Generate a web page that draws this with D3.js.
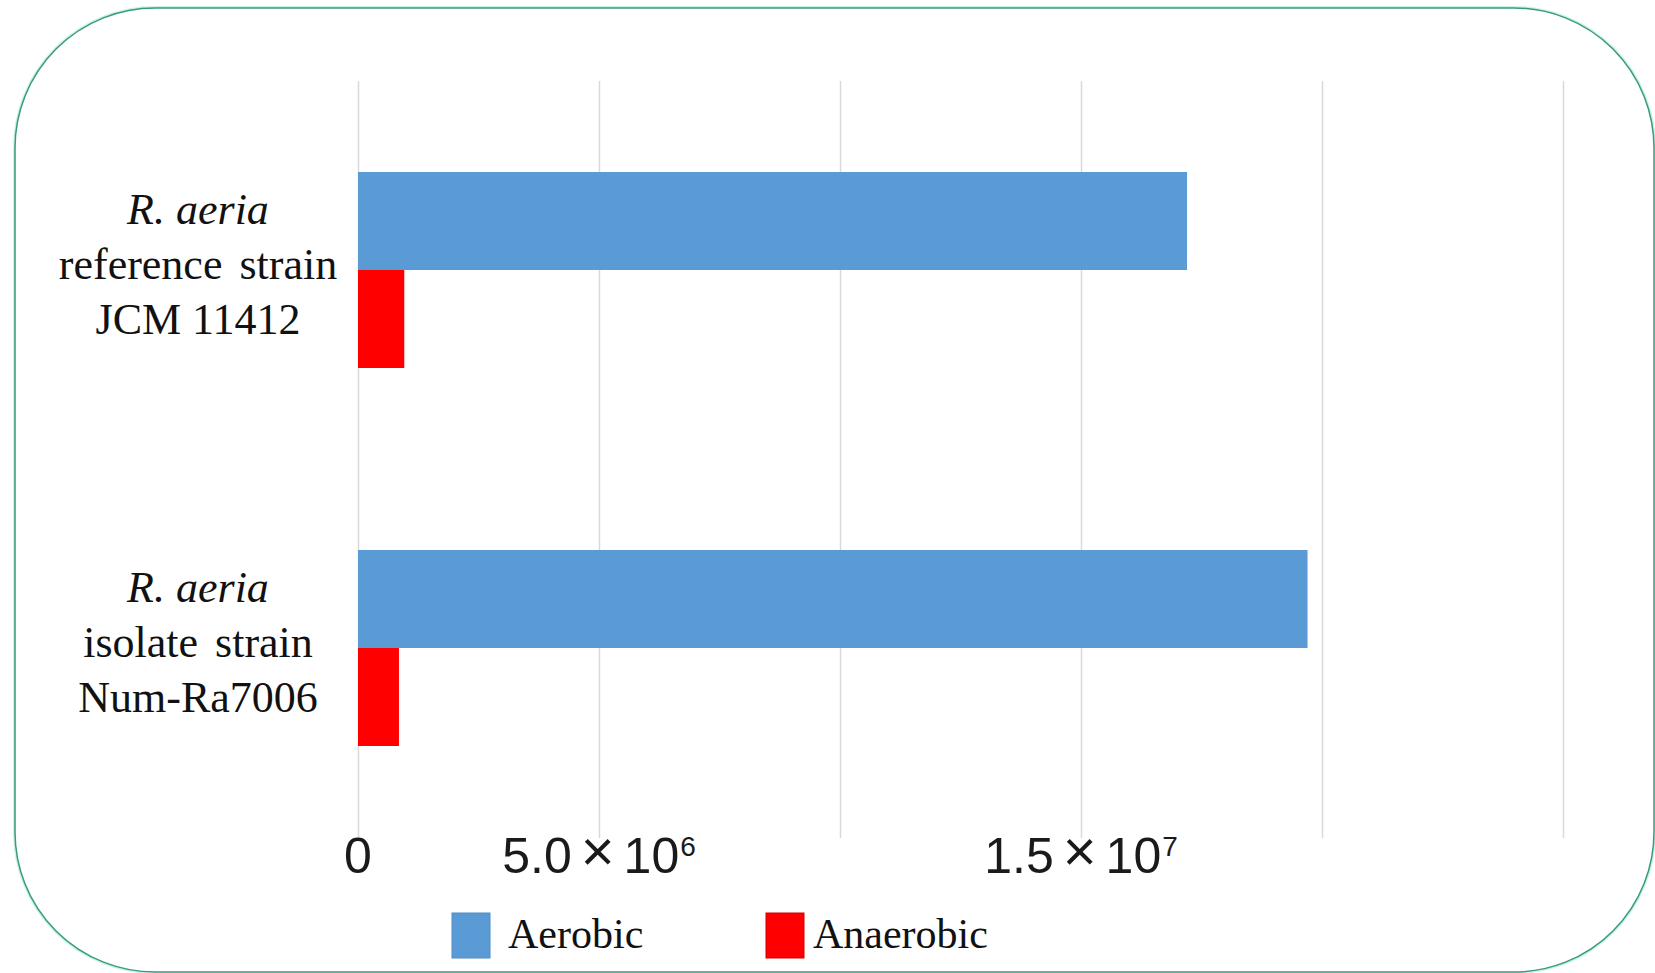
<!DOCTYPE html>
<html>
<head>
<meta charset="utf-8">
<script src="https://cdn.jsdelivr.net/npm/d3@7"></script>
<style>
  html, body { margin: 0; padding: 0; background: #ffffff; }
  svg { display: block; }
</style>
</head>
<body>
<svg id="chart" width="1655" height="973"></svg>
<script>
// ---- Data ----
const categories = ["JCM 11412", "Num-Ra7006"];
const categoryLines = [
  ["R. aeria", "reference strain", "JCM 11412"],
  ["R. aeria", "isolate strain", "Num-Ra7006"]
];
const seriesNames = ["Aerobic", "Anaerobic"];
const seriesColors = ["#5b9bd5", "#ff0000"];
const seriesStrokes = ["#4f8cc4", "#d00000"];
const aerobic = [1.72e7, 1.97e7];
const anaerobic = [9.6e5, 8.5e5];
const tickValues = [0, 5e6, 1e7, 1.5e7, 2e7, 2.5e7];
// tick labels: [mantissa, base, exponent]; empty = no label
const tickLabels = [["0", "", ""], ["5.0", "10", "6"], ["", "", ""], ["1.5", "10", "7"], ["", "", ""], ["", "", ""]];

// ---- Layout ----
const svg = d3.select("#chart");
const plot = { left: 358, right: 1563, top: 81, bottom: 837 };

// frame
svg.append("rect")
  .attr("x", 15).attr("y", 8).attr("width", 1639).attr("height", 964)
  .attr("rx", 140).attr("ry", 140)
  .attr("fill", "none").attr("stroke", "#c8f2ea").attr("stroke-width", 4);
svg.append("rect")
  .attr("x", 15).attr("y", 8).attr("width", 1639).attr("height", 964)
  .attr("rx", 140).attr("ry", 140)
  .attr("fill", "#ffffff").attr("stroke", "#3a9a7e").attr("stroke-width", 1.5);

const x = d3.scaleLinear().domain([0, 2.5e7]).range([plot.left, plot.right]);
const y = d3.scaleBand().domain(d3.range(categories.length))
  .range([plot.top, plot.bottom]).paddingInner(0.4815).paddingOuter(0.4815 / 2);
const ySub = d3.scaleBand().domain(seriesNames).range([0, y.bandwidth()]);

// grid + axis
const axis = d3.axisBottom(x).tickValues(tickValues)
  .tickSize(-(plot.bottom - plot.top + 1)).tickFormat(() => "");
const gAxis = svg.append("g").attr("transform", `translate(0,${plot.bottom + 1})`).call(axis);
gAxis.select(".domain").remove();
gAxis.selectAll(".tick line").attr("stroke", "#d9d9d9").attr("stroke-width", 1.5);
gAxis.selectAll(".tick text").remove();

// tick labels with superscripts
const tl = svg.append("g").attr("font-family", "'Liberation Sans', Arial, sans-serif").attr("fill", "#1a1a1a");
tickValues.forEach((v, i) => {
  const [m, b, e] = tickLabels[i];
  if (!m) return;
  const t = tl.append("text").attr("x", x(v)).attr("y", 873)
    .attr("text-anchor", "middle").attr("font-size", 50);
  t.append("tspan").text(m);
  if (b) {
    t.append("tspan").attr("font-size", 58).attr("dx", 9).attr("dy", -2).text("×");
    t.append("tspan").attr("dx", 9).attr("dy", 2).text(b);
    t.append("tspan").attr("font-size", 28).attr("dx", 1).attr("dy", -17).text(e);
  }
});

// bars
const data = categories.map((c, i) => ({ i, values: [aerobic[i], anaerobic[i]] }));
const groups = svg.append("g").selectAll("g").data(data).join("g")
  .attr("transform", d => `translate(0,${y(d.i)})`);
groups.selectAll("rect").data(d => d.values.map((v, k) => ({ v, k }))).join("rect")
  .attr("x", x(0))
  .attr("y", d => ySub(seriesNames[d.k]))
  .attr("width", d => x(d.v) - x(0))
  .attr("height", ySub.bandwidth())
  .attr("fill", d => seriesColors[d.k]);

// category labels
const cl = svg.append("g").attr("font-family", "'Liberation Serif', 'Times New Roman', serif")
  .attr("font-size", 44).attr("fill", "#111").attr("text-anchor", "middle");
categoryLines.forEach((lines, i) => {
  const cy = y(i) + y.bandwidth() / 2;
  lines.forEach((ln, j) => {
    cl.append("text").attr("x", 198).attr("y", cy + (j - 1) * 55 + 9)
      .attr("font-style", j === 0 ? "italic" : "normal")
      .attr("word-spacing", j === 1 ? 6 : 0)
      .text(ln);
  });
});

// legend
const legendX = [452, 766];
const legendTextOffset = [56, 47];
const lg = svg.append("g").attr("font-family", "'Liberation Serif', 'Times New Roman', serif")
  .attr("font-size", 42).attr("fill", "#111");
seriesNames.forEach((s, k) => {
  lg.append("rect").attr("x", legendX[k]).attr("y", 913).attr("width", 38).attr("height", 45)
    .attr("fill", seriesColors[k]).attr("stroke", seriesStrokes[k]).attr("stroke-width", 1);
  lg.append("text").attr("x", legendX[k] + legendTextOffset[k]).attr("y", 948).text(s);
});
</script>
</body>
</html>
